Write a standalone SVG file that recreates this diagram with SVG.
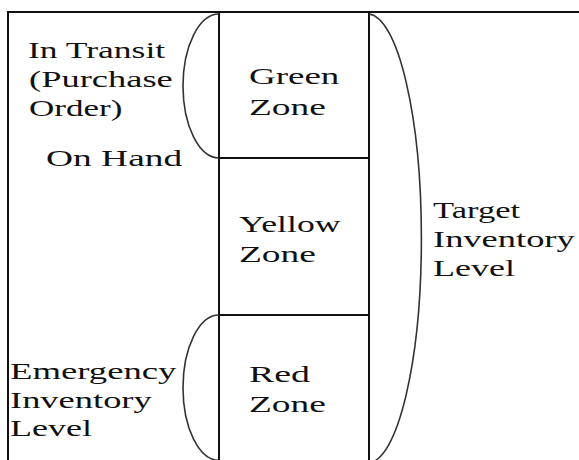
<svg xmlns="http://www.w3.org/2000/svg" width="579" height="460" viewBox="0 0 579 460">
<style>
  .frame{stroke:#111;stroke-width:2;fill:none}
  .zone{stroke:#111;stroke-width:2;fill:none}
  .brace{stroke:#333;stroke-width:1.6;fill:none}
  text{font-family:"Liberation Serif","Times New Roman",serif;font-size:24px;fill:#111}
</style>
<rect width="579" height="460" fill="#fff"/>
<g id="frame">
  <path class="frame" d="M8,460 V12 H579"/>
</g>
<g id="column">
  <g id="green-zone">
    <path class="zone" d="M219,12 V158 M369,12 V158"/>
    <text transform="translate(249,84) scale(1.54,1)">Green</text>
    <text transform="translate(249,115) scale(1.56,1)">Zone</text>
  </g>
  <g id="yellow-zone">
    <path class="zone" d="M219,158 H369 M219,158 V315 M369,158 V315"/>
    <text transform="translate(239,232) scale(1.49,1)">Yellow</text>
    <text transform="translate(239,262) scale(1.56,1)">Zone</text>
  </g>
  <g id="red-zone">
    <path class="zone" d="M219,315 H369 M219,315 V460 M369,315 V460"/>
    <text transform="translate(249,382) scale(1.58,1)">Red</text>
    <text transform="translate(249,412) scale(1.56,1)">Zone</text>
  </g>
</g>
<g id="connectors">
  <path class="brace" d="M219,14 A36,72 0 0 0 219,158"/>
  <path class="brace" d="M219,315 A36,72.7 0 0 0 219,460.4"/>
  <path class="brace" d="M369,14 A54,224.6 0 0 1 369,463"/>
</g>
<g id="in-transit">
  <text transform="translate(28,58) scale(1.48,1)">In Transit</text>
  <text transform="translate(29,87) scale(1.52,1)">(Purchase</text>
  <text transform="translate(29,116) scale(1.46,1)">Order)</text>
</g>
<g id="on-hand">
  <text transform="translate(46,166) scale(1.56,1)">On Hand</text>
</g>
<g id="target">
  <text transform="translate(433,218) scale(1.44,1)">Target</text>
  <text transform="translate(433,247) scale(1.52,1)">Inventory</text>
  <text transform="translate(433,276) scale(1.5,1)">Level</text>
</g>
<g id="emergency">
  <text transform="translate(10,379) scale(1.53,1)">Emergency</text>
  <text transform="translate(10,408) scale(1.52,1)">Inventory</text>
  <text transform="translate(10,436) scale(1.5,1)">Level</text>
</g>
</svg>
